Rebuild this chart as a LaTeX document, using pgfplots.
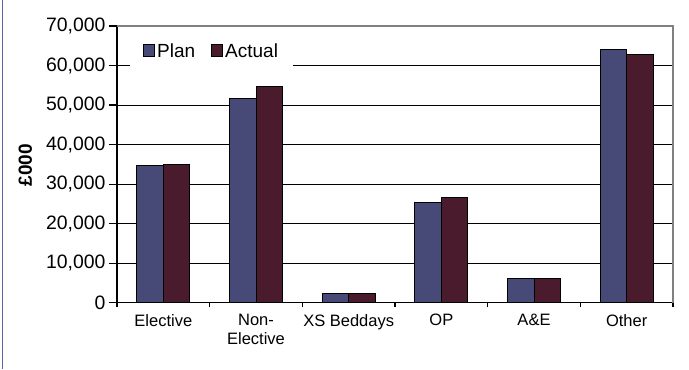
\documentclass[border=0pt]{standalone}
\usepackage{pgfplots}
\pgfplotsset{compat=1.18}
\usepackage{fontspec}
\setmainfont{Liberation Sans}

\definecolor{planblue}{RGB}{71,74,119}
\definecolor{actualred}{RGB}{74,26,45}
\definecolor{framegray}{RGB}{128,128,128}
\definecolor{edgeblue}{RGB}{96,96,176}

\begin{document}
\begin{tikzpicture}[x=1bp,y=1bp]
% page frame: the axis box corner sits at the origin
\path[use as bounding box] (-117,-66.3) rectangle (572,302.7);
\draw[edgeblue, line width=1.5bp] (-114.5,-66.3) -- (-114.5,302.7);
\begin{axis}[
  scale only axis, width=556bp, height=276.7bp,
  ybar=0pt, bar width=0.286,
  xmin=-0.5, xmax=5.5, ymin=0, ymax=70000,
  axis x line*=bottom, axis y line*=left,
  axis line style={black, line width=1.2bp},
  xtick={0,1,2,3,4,5},
  xticklabels={Elective,{Non-\\Elective},XS Beddays,OP,A\&E,Other},
  xticklabel style={align=center, font=\fontsize{16.5bp}{19bp}\selectfont},
  major x tick style={draw=none},
  minor xtick={-0.5,0.5,1.5,2.5,3.5,4.5,5.5},
  minor x tick style={black, line width=1.2bp},
  minor tick length=4.5bp,
  ytick distance=10000,
  scaled y ticks=false,
  major tick length=8bp,
  tick align=outside,
  ytick style={black, line width=1.2bp},
  yticklabel style={font=\fontsize{19.4bp}{22bp}\selectfont},
  /pgf/number format/assume math mode=true,
  /pgf/number format/.cd, fixed, 1000 sep={,},
  /pgfplots/.cd,
  ymajorgrids,
  grid style={black, line width=1bp},
  ylabel={\textbf{£000}},
  ylabel style={font=\fontsize{19bp}{22bp}\selectfont,
    at={(axis description cs:-0.165,0.497)}, anchor=center},
  legend style={at={(axis description cs:0.0234,0.978)}, anchor=north west,
    draw=none, fill=white, legend columns=2,
    font=\fontsize{19bp}{22bp}\selectfont,
    inner xsep=13bp, inner ysep=9bp,
    /tikz/every even column/.append style={column sep=14bp}},
  legend image code/.code={\draw[#1, line width=1bp] (0bp,-6bp) rectangle (11bp,6.5bp);},
  clip=false,
]
\addplot[fill=planblue, draw=black, line width=1bp] coordinates
  {(0,34600) (1,51700) (2,2400) (3,25400) (4,6100) (5,64000)};
\addplot[fill=actualred, draw=black, line width=1bp] coordinates
  {(0,34900) (1,54800) (2,2400) (3,26700) (4,6100) (5,62800)};
\legend{Plan,Actual}
\draw[framegray, line width=1.2bp] (rel axis cs:0,1) -- (rel axis cs:1,1) -- (rel axis cs:1,0);
\end{axis}
\end{tikzpicture}
\end{document}
